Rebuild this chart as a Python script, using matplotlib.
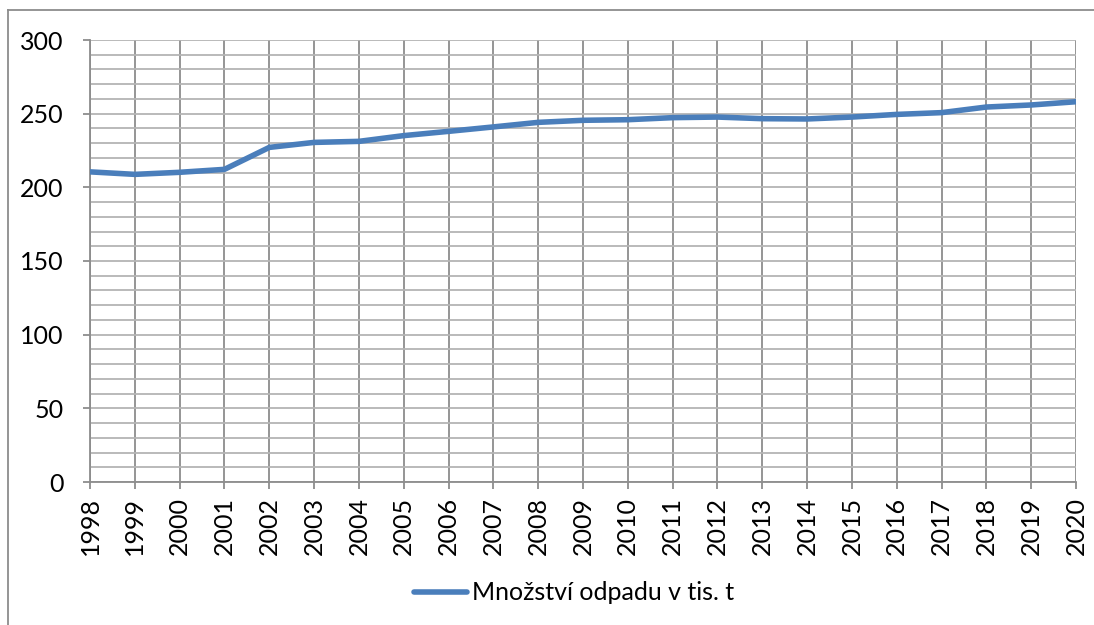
import matplotlib

matplotlib.use("Agg")
import matplotlib.pyplot as plt
from matplotlib.lines import Line2D
from matplotlib.ticker import MultipleLocator

years = list(range(1998, 2021))
waste = [210.5, 208.8, 210.2, 212.2, 227.1, 230.5, 231.2, 235.1, 238.0, 241.0,
         244.1, 245.5, 245.9, 247.3, 247.7, 246.6, 246.4, 247.7, 249.5, 250.7,
         254.5, 255.9, 258.1]
series_label = "Množství odpadu v tis. t"

plt.rcParams["font.family"] = ["Lato", "DejaVu Sans"]

W, H = 1094, 625
fig = plt.figure(figsize=(W / 100, H / 100), dpi=100)
ax = fig.add_axes([90 / W, 1 - 482 / H, 986 / W, 442 / H])

line_color = "#4a7ebb"
ax.plot(years, waste, color=line_color, lw=4.0, solid_capstyle="round",
        label=series_label, zorder=3)

ax.set_xlim(years[0], years[-1])
ax.set_ylim(0, 300)
ax.set_xticks(years)
ax.set_xticklabels([str(y) for y in years], rotation=90)
ax.yaxis.set_major_locator(MultipleLocator(50))
ax.yaxis.set_minor_locator(MultipleLocator(10))

ax.grid(True, which="major", axis="x", color="#8c8c8c", lw=1.3)
ax.grid(True, which="both", axis="y", color="#b4b4b4", lw=1.3)
ax.set_axisbelow(True)

for side in ("top", "right"):
    ax.spines[side].set_visible(False)
for side in ("left", "bottom"):
    ax.spines[side].set_color("#8c8c8c")
    ax.spines[side].set_linewidth(1.3)

ax.tick_params(axis="y", which="major", length=5, width=1.3, color="#8c8c8c",
               labelsize=18, pad=14)
ax.tick_params(axis="y", which="minor", length=0)
ax.tick_params(axis="x", length=5, width=1.3, color="#8c8c8c",
               labelsize=18, pad=6)

# outer chart frame (top and left edges only are visible)
fig.add_artist(Line2D([8 / W, 1], [1 - 10 / H, 1 - 10 / H], color="#8c8c8c",
                      lw=1.3, transform=fig.transFigure))
fig.add_artist(Line2D([8 / W, 8 / W], [0, 1 - 10 / H], color="#8c8c8c",
                      lw=1.3, transform=fig.transFigure))

fig.legend(loc="center", bbox_to_anchor=(574 / W, 1 - 593 / H), frameon=False,
           fontsize=18, handlelength=2.1, handletextpad=0.2)

fig.savefig("out.png", dpi=100)
